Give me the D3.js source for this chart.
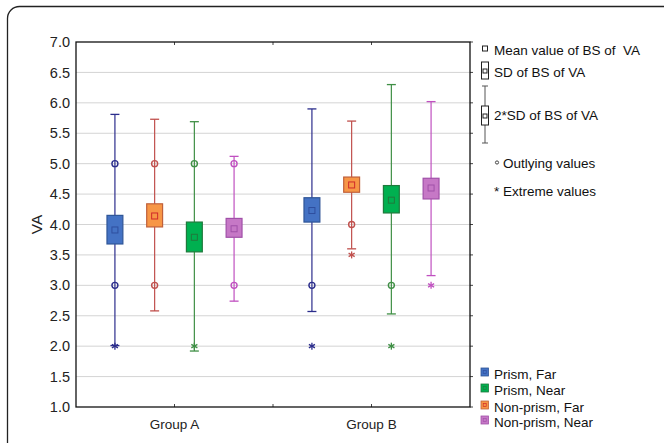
<!DOCTYPE html>
<html>
<head>
<meta charset="utf-8">
<script src="https://cdn.jsdelivr.net/npm/d3@7"></script>
<style>
  body { margin: 0; background: #fff; }
  svg { font-family: "Liberation Sans", Arial, sans-serif; }
  text { white-space: pre; }
</style>
</head>
<body>
<div id="chart"></div>
<script>
// data
const groups = ["Group A", "Group B"];
const series = ["Prism, Far", "Non-prism, Far", "Prism, Near", "Non-prism, Near"];
const legendOrder = ["Prism, Far", "Prism, Near", "Non-prism, Far", "Non-prism, Near"];
const yTicks = [1.0, 1.5, 2.0, 2.5, 3.0, 3.5, 4.0, 4.5, 5.0, 5.5, 6.0, 6.5, 7.0];

// per series: [Group A, Group B]
const means     = { "Prism, Far": [3.91, 4.23], "Non-prism, Far": [4.14, 4.65], "Prism, Near": [3.79, 4.40], "Non-prism, Near": [3.93, 4.60] };
const boxLow    = { "Prism, Far": [3.68, 4.04], "Non-prism, Far": [3.96, 4.53], "Prism, Near": [3.55, 4.19], "Non-prism, Near": [3.79, 4.42] };
const boxHigh   = { "Prism, Far": [4.15, 4.44], "Non-prism, Far": [4.34, 4.78], "Prism, Near": [4.04, 4.64], "Non-prism, Near": [4.10, 4.76] };
const whiskLow  = { "Prism, Far": [2.01, 2.57], "Non-prism, Far": [2.58, 3.60], "Prism, Near": [1.92, 2.53], "Non-prism, Near": [2.74, 3.16] };
const whiskHigh = { "Prism, Far": [5.81, 5.90], "Non-prism, Far": [5.73, 5.70], "Prism, Near": [5.69, 6.30], "Non-prism, Near": [5.12, 6.02] };

const outliers = [
  ["Group A", "Prism, Far", 5.0], ["Group A", "Prism, Far", 3.0],
  ["Group A", "Non-prism, Far", 5.0], ["Group A", "Non-prism, Far", 3.0],
  ["Group A", "Prism, Near", 5.0],
  ["Group A", "Non-prism, Near", 5.0], ["Group A", "Non-prism, Near", 3.0],
  ["Group B", "Prism, Far", 3.0],
  ["Group B", "Non-prism, Far", 4.0],
  ["Group B", "Prism, Near", 3.0]
];
const extremes = [
  ["Group A", "Prism, Far", 2.0], ["Group A", "Prism, Near", 2.0],
  ["Group B", "Prism, Far", 2.0], ["Group B", "Non-prism, Far", 3.5],
  ["Group B", "Prism, Near", 2.0], ["Group B", "Non-prism, Near", 3.0]
];

const fill   = { "Prism, Far": "#4472c4", "Non-prism, Far": "#f79646", "Prism, Near": "#00b050", "Non-prism, Near": "#c678c6" };
const stroke = { "Prism, Far": "#2f5597", "Non-prism, Far": "#c0603a", "Prism, Near": "#1f7a3c", "Non-prism, Near": "#a050a8" };
const line   = { "Prism, Far": "#2b2d8c", "Non-prism, Far": "#c0504d", "Prism, Near": "#3f8f45", "Non-prism, Near": "#c050c0" };
const meanCol = { "Prism, Far": "#2f4f9f", "Non-prism, Far": "#d02a2a", "Prism, Near": "#1f7a3c", "Non-prism, Near": "#a050a8" };

const W = 664, H = 443;
const m = { l: 76, r: 194, t: 42, b: 36 };

const svg = d3.select("#chart").append("svg").attr("width", W).attr("height", H);

// outer frame
svg.append("rect").attr("x", 7.5).attr("y", 6.5).attr("width", 700).attr("height", 480)
   .attr("rx", 12).attr("fill", "none").attr("stroke", "#222").attr("stroke-width", 1.3);

let x = d3.scaleBand().domain(groups).range([m.l, W - m.r]);
let xi = d3.scaleBand().domain(series).range([0, x.bandwidth()]).paddingInner(0.6).paddingOuter(0.78);
let y = d3.scaleLinear().domain([1, 7]).range([H - m.b, m.t]);

const cx = (g, s) => x(g) + xi(s) + xi.bandwidth() / 2;

// grid
svg.append("g").selectAll("line").data(yTicks.slice(1, -1)).join("line")
   .attr("x1", m.l).attr("x2", W - m.r)
   .attr("y1", d => y(d)).attr("y2", d => y(d))
   .attr("stroke", "#d4d4d4").attr("stroke-width", 1);

// axes
let yAxis = svg.append("g").attr("transform", `translate(${m.l},0)`)
   .call(d3.axisLeft(y).tickValues(yTicks).tickFormat(d3.format(".1f")).tickSize(0).tickPadding(6));
yAxis.select(".domain").remove();
yAxis.selectAll("text").attr("font-size", 14.5).attr("fill", "#222").attr("font-family", "Liberation Sans, Arial");

let xAxis = svg.append("g").attr("transform", `translate(0,${H - m.b})`)
   .call(d3.axisBottom(x).tickSize(0).tickPadding(12));
xAxis.select(".domain").remove();
xAxis.selectAll("text").attr("font-size", 13.5).attr("fill", "#222").attr("font-family", "Liberation Sans, Arial");

// small ticks on the frame
let tickXs = [x("Group A") + x.bandwidth() / 2, x("Group B"), x("Group B") + x.bandwidth() / 2];
svg.append("g").selectAll("line").data(tickXs).join("line")
   .attr("x1", d => d).attr("x2", d => d).attr("y1", H - m.b).attr("y2", H - m.b - 3)
   .attr("stroke", "#444");
svg.append("g").selectAll("line").data(tickXs).join("line")
   .attr("x1", d => d).attr("x2", d => d).attr("y1", m.t).attr("y2", m.t + 3)
   .attr("stroke", "#444");
svg.append("g").selectAll("line").data(yTicks).join("line")
   .attr("x1", W - m.r).attr("x2", W - m.r + 3).attr("y1", d => y(d)).attr("y2", d => y(d))
   .attr("stroke", "#444");

svg.append("rect").attr("x", m.l).attr("y", m.t)
   .attr("width", W - m.l - m.r).attr("height", H - m.t - m.b)
   .attr("fill", "none").attr("stroke", "#111").attr("stroke-width", 1.3);

svg.append("text").attr("transform", `translate(42,${y(4)}) rotate(-90)`)
   .attr("text-anchor", "middle").attr("font-size", 15.5).attr("fill", "#222").text("VA");

// boxes
let rows = [];
groups.forEach((g, gi) => series.forEach(s => rows.push({ g, s, gi })));

let bw = xi.bandwidth();
let items = svg.append("g").selectAll("g").data(rows).join("g");

items.append("line")
   .attr("x1", d => cx(d.g, d.s)).attr("x2", d => cx(d.g, d.s))
   .attr("y1", d => y(whiskLow[d.s][d.gi])).attr("y2", d => y(whiskHigh[d.s][d.gi]))
   .attr("stroke", d => line[d.s]).attr("stroke-width", 1.2);
items.selectAll(".cap").data(d => [whiskLow[d.s][d.gi], whiskHigh[d.s][d.gi]].map(v => ({ v, d }))).join("line")
   .attr("x1", e => cx(e.d.g, e.d.s) - 4.5).attr("x2", e => cx(e.d.g, e.d.s) + 4.5)
   .attr("y1", e => y(e.v)).attr("y2", e => y(e.v))
   .attr("stroke", e => line[e.d.s]).attr("stroke-width", 1.3);

items.append("rect")
   .attr("x", d => cx(d.g, d.s) - bw / 2).attr("width", bw)
   .attr("y", d => y(boxHigh[d.s][d.gi]))
   .attr("height", d => y(boxLow[d.s][d.gi]) - y(boxHigh[d.s][d.gi]))
   .attr("fill", d => fill[d.s]).attr("stroke", d => stroke[d.s]).attr("stroke-width", 1.2);

items.append("rect")
   .attr("x", d => cx(d.g, d.s) - 3).attr("y", d => y(means[d.s][d.gi]) - 3)
   .attr("width", 6).attr("height", 6)
   .attr("fill", "none").attr("stroke", d => meanCol[d.s]).attr("stroke-width", 1);

// outlying values
svg.append("g").selectAll("circle").data(outliers).join("circle")
   .attr("cx", d => cx(d[0], d[1])).attr("cy", d => y(d[2])).attr("r", 3)
   .attr("fill", "none").attr("stroke", d => line[d[1]]).attr("stroke-width", 1.4);

// extreme values as asterisks
function star(sel, size) {
  sel.each(function(d) {
    let g = d3.select(this);
    [0, 60, 120].forEach(a => {
      let r = a * Math.PI / 180;
      g.append("line")
       .attr("x1", -Math.sin(r) * size).attr("y1", -Math.cos(r) * size)
       .attr("x2", Math.sin(r) * size).attr("y2", Math.cos(r) * size);
    });
  });
}
svg.append("g").selectAll("g").data(extremes).join("g")
   .attr("transform", d => `translate(${cx(d[0], d[1])},${y(d[2])})`)
   .attr("stroke", d => line[d[1]]).attr("stroke-width", 1.3)
   .call(star, 3.5);

// legend (symbols)
let lg = svg.append("g").attr("font-size", 13.5).attr("fill", "#111");
let lx = 485;
lg.append("rect").attr("x", lx - 2.5).attr("y", 46).attr("width", 5).attr("height", 5)
  .attr("fill", "none").attr("stroke", "#222");
lg.append("text").attr("x", 494).attr("y", 55).text("Mean value of BS of  VA");

lg.append("rect").attr("x", lx - 3.5).attr("y", 62).attr("width", 7).attr("height", 17)
  .attr("fill", "none").attr("stroke", "#222");
lg.append("rect").attr("x", lx - 2).attr("y", 69).attr("width", 4).attr("height", 4)
  .attr("fill", "none").attr("stroke", "#222");
lg.append("text").attr("x", 494).attr("y", 77).text("SD of BS of VA");

lg.append("line").attr("x1", lx).attr("x2", lx).attr("y1", 86).attr("y2", 143).attr("stroke", "#555");
[86, 143].forEach(v => lg.append("line").attr("x1", lx - 3).attr("x2", lx + 3).attr("y1", v).attr("y2", v).attr("stroke", "#555"));
lg.append("rect").attr("x", lx - 3.5).attr("y", 106).attr("width", 7).attr("height", 19)
  .attr("fill", "#fff").attr("stroke", "#222");
lg.append("rect").attr("x", lx - 2).attr("y", 114).attr("width", 4).attr("height", 4)
  .attr("fill", "none").attr("stroke", "#222");
lg.append("text").attr("x", 494).attr("y", 120).text("2*SD of BS of VA");

lg.append("circle").attr("cx", 497).attr("cy", 162.5).attr("r", 1.6).attr("fill", "none").attr("stroke", "#444");
lg.append("text").attr("x", 503).attr("y", 167.5).text("Outlying values");
lg.append("text").attr("x", 494).attr("y", 196).text("* Extreme values");

// legend (series)
let lgs = svg.append("g").selectAll("g").data(legendOrder).join("g")
   .attr("transform", (d, i) => `translate(481,${[368, 384, 401, 416][i]})`);
lgs.append("rect").attr("width", 7.5).attr("height", 8)
   .attr("fill", d => fill[d]).attr("stroke", d => stroke[d]).attr("stroke-width", 0.8);
lgs.append("rect").attr("x", 2.2).attr("y", 2.5).attr("width", 3).attr("height", 3)
   .attr("fill", "none").attr("stroke", d => meanCol[d]).attr("stroke-width", 0.7);
lgs.append("text").attr("x", 13).attr("y", 11).attr("font-size", 13.5).attr("fill", "#111").text(d => d);
</script>
</body>
</html>
